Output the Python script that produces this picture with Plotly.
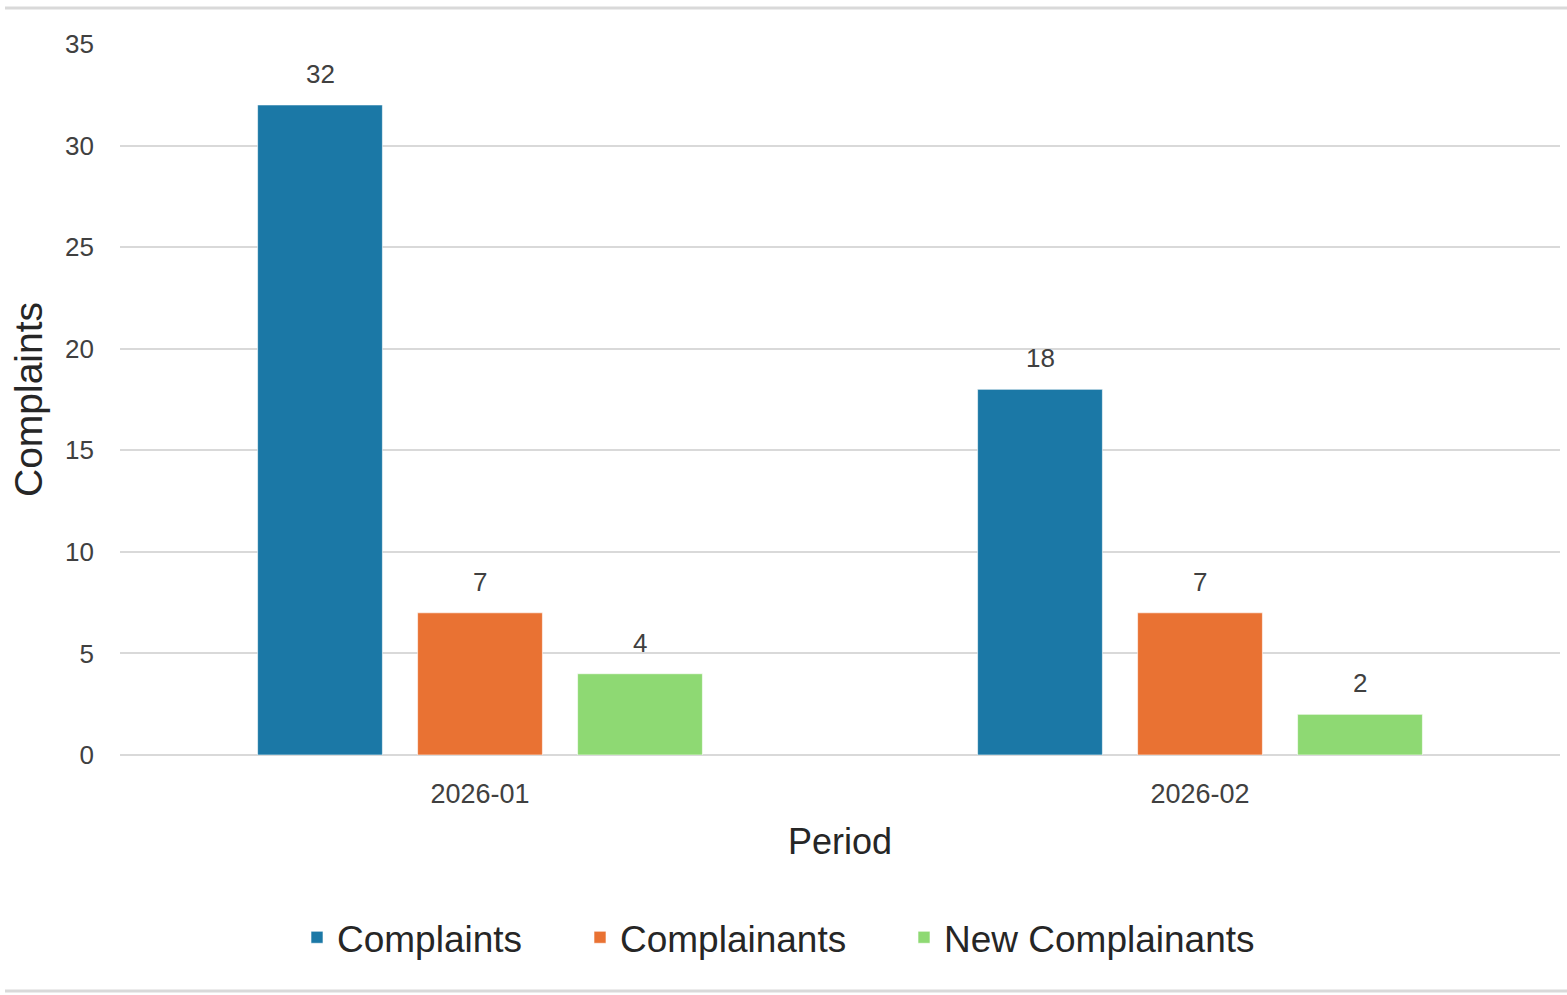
import plotly.graph_objects as go

periods = ["2026-01", "2026-02"]
series_names = ["Complaints", "Complainants", "New Complainants"]
complaints = [32, 18]
complainants = [7, 7]
new_complainants = [4, 2]
y_ticks = [0, 5, 10, 15, 20, 25, 30, 35]

series_values = [complaints, complainants, new_complainants]
colors = ["#1b78a6", "#e97233", "#8ed973"]

W, H = 1567, 995
ML, MR, MT, MB = 120, 7, 44, 240
plot_w = W - ML - MR
plot_h = H - MT - MB
FONT = "Liberation Sans, Arial, sans-serif"

legend_ids = ["legend", "legend2", "legend3"]
legend_px = [297, 580, 904]  # left edge of each legend entry (pixels)

fig = go.Figure()
for name, vals, col, lid in zip(series_names, series_values, colors, legend_ids):
    fig.add_trace(go.Bar(
        x=periods, y=vals, name=name, legend=lid,
        marker=dict(color=col, line=dict(color="rgba(255,255,255,0.6)", width=1)),
    ))

# data labels above bars, shifted to each bar's slot within the group
cat_w = plot_w / len(periods)
slot = cat_w * (2 / 3) / len(series_names)
for i, vals in enumerate(series_values):
    shift = (i - (len(series_names) - 1) / 2) * slot
    for p, v in zip(periods, vals):
        fig.add_annotation(
            x=p, y=v, xref="x", yref="y", text=str(v), showarrow=False,
            xshift=shift, yshift=31, yanchor="middle",
            font=dict(family=FONT, size=26, color="#404040"),
        )

grid = "#d9d9d9"
# chart border lines (top and bottom)
for py in (8, 991):
    fig.add_shape(type="line", xref="paper", yref="paper",
                  x0=(5 - ML) / plot_w, x1=(W - ML) / plot_w,
                  y0=(MT + plot_h - py) / plot_h, y1=(MT + plot_h - py) / plot_h,
                  line=dict(color=grid, width=3), layer="below")

legend_style = dict(
    orientation="h", y=-0.257, yanchor="middle", xanchor="left",
    font=dict(family=FONT, size=37, color="#262626"),
    bgcolor="rgba(0,0,0,0)",
)
legends = {}
for lid, px in zip(legend_ids, legend_px):
    legends[lid] = dict(legend_style, x=(px - ML) / plot_w)

fig.update_layout(
    width=W, height=H,
    margin=dict(l=ML, r=MR, t=MT, b=MB),
    paper_bgcolor="white", plot_bgcolor="white",
    barmode="group", bargap=1 / 3, bargroupgap=0.22,
    font=dict(family=FONT, color="#404040"),
    showlegend=True,
    xaxis=dict(
        type="category",
        title=dict(text="Period", font=dict(size=36, color="#262626"), standoff=20),
        tickfont=dict(size=27, color="#404040"),
        showgrid=False, showline=False, zeroline=False, ticks="",
        ticklabelstandoff=20,
    ),
    yaxis=dict(
        title=dict(text="Complaints", font=dict(size=39, color="#262626"), standoff=10),
        range=[0, 35], tickvals=y_ticks,
        tickfont=dict(size=26, color="#404040"),
        showgrid=True, gridcolor=grid, gridwidth=2,
        zeroline=True, zerolinecolor=grid, zerolinewidth=2,
        showline=False, ticks="", ticklabelstandoff=25,
    ),
    **legends,
)

fig.write_html("out.html", config={"displayModeBar": False},
               post_script="document.body.style.margin='0';")
